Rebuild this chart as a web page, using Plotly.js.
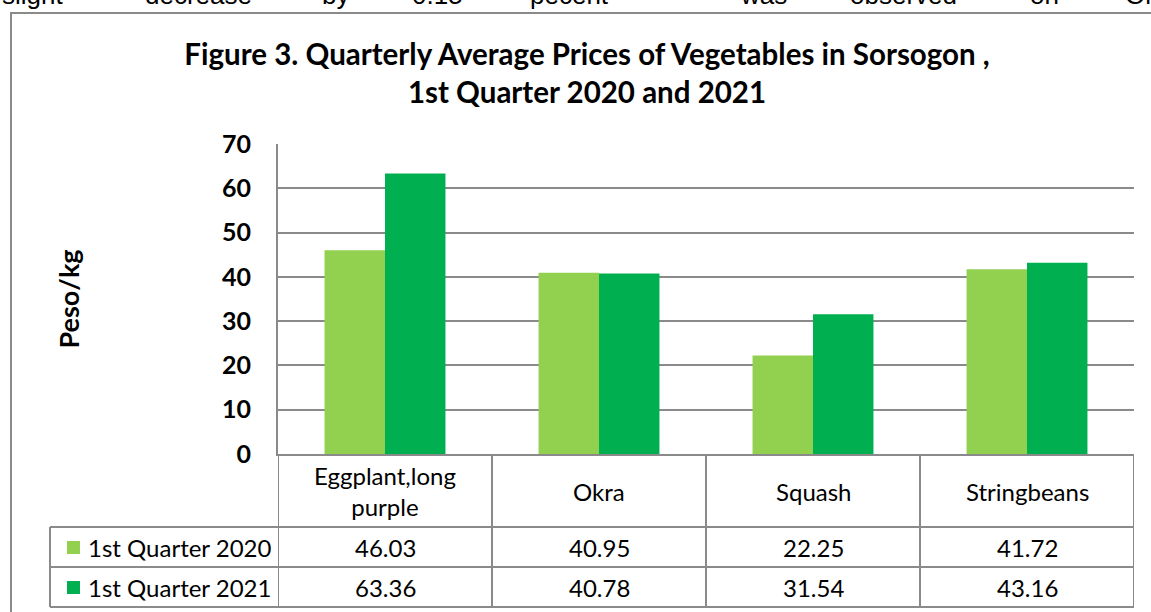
<!DOCTYPE html>
<html>
<head>
<meta charset="utf-8">
<script src="https://cdn.plot.ly/plotly-3.0.1.min.js"></script>
<style>html,body{margin:0;padding:0;background:#fff;}#chart{width:1151px;height:612px;}</style>
</head>
<body>
<div id="chart"></div>
<script>
// ---- data ----
const categories = ["Eggplant,long purple", "Okra", "Squash", "Stringbeans"];
const categoryLabels = ["Eggplant,long<br>purple", "Okra", "Squash", "Stringbeans"];
const seriesNames = ["1st Quarter 2020", "1st Quarter 2021"];
const q2020 = [46.03, 40.95, 22.25, 41.72];
const q2021 = [63.36, 40.78, 31.54, 43.16];
const yTickValues = [0, 10, 20, 30, 40, 50, 60, 70];
const titleText = "Figure 3. Quarterly Average Prices of Vegetables in Sorsogon ,<br>1st Quarter 2020 and 2021";
const yTitle = "Peso/kg";
const topWords = ["slight", "decrease", "by", "0.15", "pecent", "was", "observed", "on", "Ok"];

// ---- layout helpers (pixel -> paper) ----
const W = 1151, H = 612;
const L = 278, R = 1134, T = 144, B = 454;
const px = X => (X - L) / (R - L);
const py = Y => (B - Y) / (B - T);

const colors = ["#92D050", "#00B050"];
const lineCol = "#8A8A8A";
const seriesValues = [q2020, q2021];

const traces = seriesNames.map((n, i) => ({
  type: "bar", name: n, x: categories, y: seriesValues[i],
  marker: {color: colors[i], line: {width: 0}}, hoverinfo: "x+y+name"
}));

const shapes = [];
// outer chart border (runs off right & bottom)
shapes.push({type: "rect", xref: "paper", yref: "paper", x0: px(11), x1: px(1175), y0: py(630), y1: py(13),
  line: {color: lineCol, width: 2}, fillcolor: "rgba(0,0,0,0)", layer: "below"});
// table vertical lines at category boundaries
for (let k = 0; k <= categories.length; k++) {
  shapes.push({type: "line", xref: "x", yref: "paper", x0: k - 0.5, x1: k - 0.5, y0: 0, y1: py(607),
    line: {color: lineCol, width: 2}});
}
// legend column left edge
shapes.push({type: "line", xref: "paper", yref: "paper", x0: px(50), x1: px(50), y0: py(527), y1: py(607),
  line: {color: lineCol, width: 2}});
// horizontal table lines
[527, 567, 607].forEach(Y => shapes.push({type: "line", xref: "paper", yref: "paper", x0: px(50), x1: 1, y0: py(Y), y1: py(Y),
  line: {color: lineCol, width: 2}}));
// legend swatches
[547, 587].forEach((Y, i) => shapes.push({type: "rect", xref: "paper", yref: "paper", x0: px(67), x1: px(80), y0: py(Y + 7), y1: py(Y - 6),
  line: {width: 0}, fillcolor: colors[i]}));

const tableFont = {family: "Lato, 'Open Sans', sans-serif", size: 24, color: "#000"};
const annotations = [];
// header row (category names)
categories.forEach((c, i) => annotations.push({xref: "x", yref: "paper", x: c, y: py(491), text: categoryLabels[i],
  showarrow: false, font: tableFont, xanchor: "center", yanchor: "middle"}));
// value rows
seriesValues.forEach((vals, s) => {
  const Y = s === 0 ? 547 : 587;
  annotations.push({xref: "paper", yref: "paper", x: px(86), y: py(Y), text: seriesNames[s], showarrow: false,
    font: tableFont, xanchor: "left", yanchor: "middle"});
  vals.forEach((v, i) => annotations.push({xref: "x", yref: "paper", x: categories[i], y: py(Y), text: v.toFixed(2),
    showarrow: false, font: tableFont, xanchor: "center", yanchor: "middle"}));
});
// cut-off paragraph line at very top (justified words)
const wordX = [0, 143, 320, 410, 528, 738, 848, 1028, 1123];
topWords.forEach((w, i) => annotations.push({xref: "paper", yref: "paper", x: px(wordX[i]), y: py(12), text: w,
  showarrow: false, xanchor: "left", yanchor: "bottom",
  font: {family: "'Liberation Sans', Arial, sans-serif", size: 26, color: "#000"}}));

const layout = {
  width: W, height: H,
  margin: {l: L, r: W - R, t: T, b: H - B, pad: 0},
  paper_bgcolor: "#fff", plot_bgcolor: "#fff",
  showlegend: false,
  barmode: "group", bargap: 0.435, bargroupgap: 0,
  title: {text: "<b>" + titleText.replace("<br>", "</b><br><b>") + "</b>", xref: "paper", x: px(587), xanchor: "center",
    yref: "container", y: 1 - 65 / H, yanchor: "middle",
    font: {family: "Lato, 'Open Sans', sans-serif", size: 29.5, color: "#000"}},
  xaxis: {type: "category", range: [-0.5, categories.length - 0.5], showticklabels: false, ticks: "",
    showline: true, linecolor: lineCol, linewidth: 2, showgrid: false, zeroline: false, fixedrange: true},
  yaxis: {range: [0, 70], tickvals: yTickValues, ticks: "", ticklabelstandoff: 20,
    showgrid: true, gridcolor: lineCol, gridwidth: 2, showline: true, linecolor: lineCol, linewidth: 2, zeroline: false,
    tickfont: {family: "Lato, 'Open Sans', sans-serif", size: 25, color: "#000", weight: "bold"},
    title: {text: "<b>" + yTitle + "</b>", standoff: 135, font: {family: "Lato, 'Open Sans', sans-serif", size: 27, color: "#000"}},
    fixedrange: true},
  shapes: shapes,
  annotations: annotations
};

Plotly.newPlot("chart", traces, layout, {displayModeBar: false, staticPlot: true});
</script>
</body>
</html>
